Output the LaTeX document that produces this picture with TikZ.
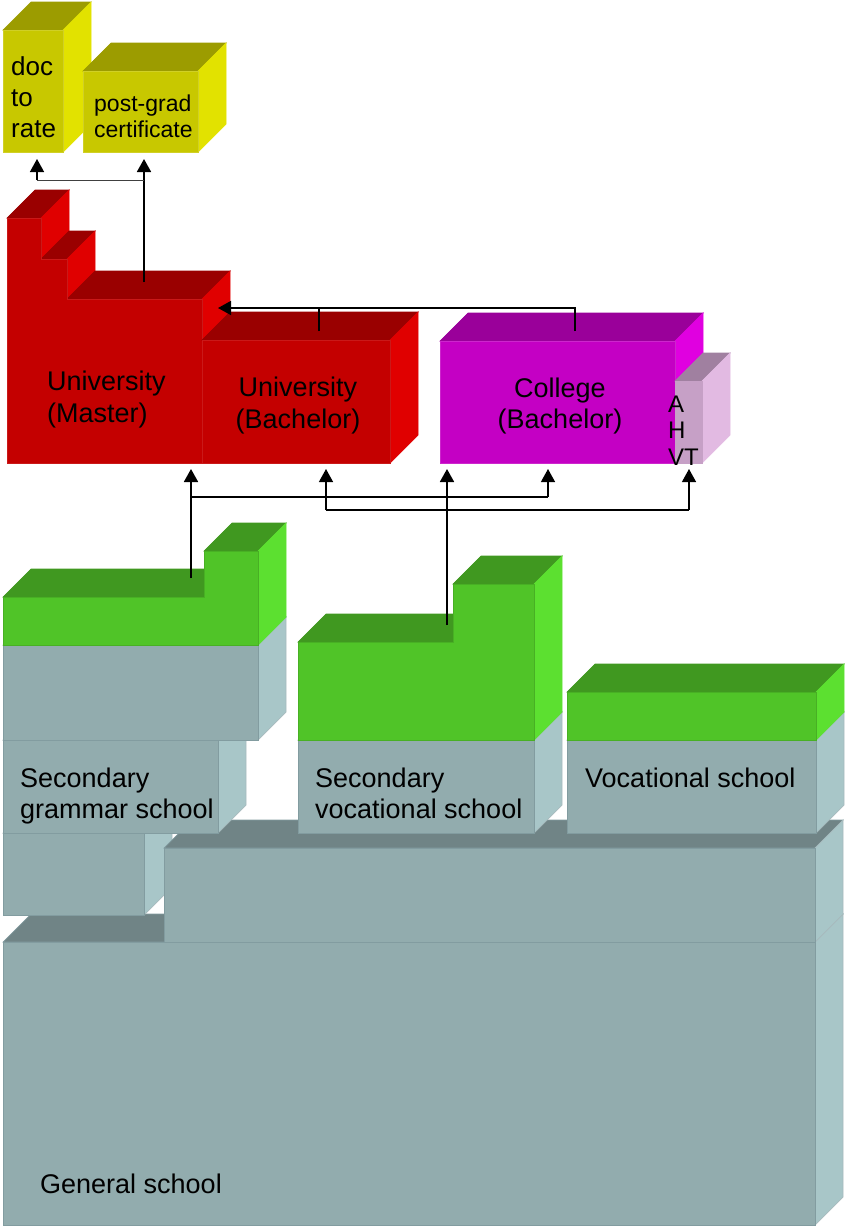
\documentclass[tikz,border=0pt]{standalone}
\usepackage{fontspec}
\setmainfont{Liberation Sans}
\usetikzlibrary{arrows.meta}
\definecolor{yF}{RGB}{200,200,0}
\definecolor{yT}{RGB}{156,156,0}
\definecolor{yS}{RGB}{226,226,0}
\definecolor{rF}{RGB}{196,0,0}
\definecolor{rT}{RGB}{154,0,0}
\definecolor{rS}{RGB}{224,0,0}
\definecolor{mF}{RGB}{196,0,196}
\definecolor{mT}{RGB}{154,0,154}
\definecolor{mS}{RGB}{224,0,224}
\definecolor{pF}{RGB}{198,160,198}
\definecolor{pT}{RGB}{160,128,160}
\definecolor{pS}{RGB}{226,186,226}
\definecolor{gF}{RGB}{80,196,40}
\definecolor{gT}{RGB}{64,152,32}
\definecolor{gS}{RGB}{92,224,48}
\definecolor{sF}{RGB}{146,172,174}
\definecolor{sT}{RGB}{112,132,134}
\definecolor{sS}{RGB}{168,198,200}
\definecolor{sE}{RGB}{130,156,160}
\newcommand\cub[5]{%
  \path[face,#5top] (#1,#2) -- ++(28,-28) -- ({#3+28},{#2-28}) -- (#3,#2) -- cycle;
  \path[face,#5side] (#3,#2) -- ({#3+28},{#2-28}) -- ({#3+28},{#4-28}) -- (#3,#4) -- cycle;
  \path[face,#5front] (#1,#2) rectangle (#3,#4);}
\tikzset{
  face/.style={line width=0.7pt,line join=miter},
  yfront/.style={fill=yF,draw=yF!85!white}, ytop/.style={fill=yT,draw=yT}, yside/.style={fill=yS,draw=yS},
  rfront/.style={fill=rF,draw=rF!90!white}, rtop/.style={fill=rT,draw=rT}, rside/.style={fill=rS,draw=rS},
  mfront/.style={fill=mF,draw=mF!85!white}, mtop/.style={fill=mT,draw=mT}, mside/.style={fill=mS,draw=mS},
  pfront/.style={fill=pF,draw=pF}, ptop/.style={fill=pT,draw=pT}, pside/.style={fill=pS,draw=pS},
  gfront/.style={fill=gF,draw=gF!90!black}, gtop/.style={fill=gT,draw=gT}, gside/.style={fill=gS,draw=gS},
  sfront/.style={fill=sF,draw=sE}, stop/.style={fill=sT,draw=sE}, sside/.style={fill=sS,draw=sE!70!white},
  lbl/.style={inner sep=0pt,anchor=base west,font=\fontsize{27}{31}\selectfont},
  clbl/.style={inner sep=0pt,anchor=base,font=\fontsize{27}{32}\selectfont},
  arr/.style={line width=1.8pt,-{Triangle[width=14pt,length=13pt]}},
  conn/.style={line width=1.3pt},
}
\begin{document}
\begin{tikzpicture}[x=1pt,y=-1pt]
\useasboundingbox (0,0) rectangle (844,1227);
% ---------- yellow ----------
\cub{3}{30}{63}{152}{y}
\cub{83}{71}{198}{152}{y}
\node[lbl,font=\fontsize{26}{31}\selectfont] (tdoc) at (11,75) {\begin{tabular}[t]{@{}l@{}}doc\\to\\rate\end{tabular}};
\node[lbl,font=\fontsize{23}{26}\selectfont] (tpg) at (94,111) {\begin{tabular}[t]{@{}l@{}}post-grad\\certificate\end{tabular}};
% ---------- red master (staircase) ----------
\path[face,rtop] (7,218) -- (35,190) -- (69,190) -- (41,218) -- cycle;
\path[face,rside] (41,218) -- (69,190) -- (69,231) -- (41,259) -- cycle;
\path[face,rtop] (41,259) -- (69,231) -- (95,231) -- (67,259) -- cycle;
\path[face,rside] (67,259) -- (95,231) -- (95,271) -- (67,299) -- cycle;
\path[face,rtop] (67,299) -- (95,271) -- (230,271) -- (202,299) -- cycle;
\path[face,rside] (202,299) -- (230,271) -- (230,435) -- (202,463) -- cycle;
\path[face,rfront] (7,218) -- (41,218) -- (41,259) -- (67,259) -- (67,299) -- (202,299) -- (202,463) -- (7,463) -- cycle;
\cub{202}{340}{390}{463}{r}
\cub{440}{341}{675}{463}{m}
\cub{675}{381}{702}{463}{p}
\node[lbl,font=\fontsize{27}{32}\selectfont] (tmaster) at (47,390) {\begin{tabular}[t]{@{}l@{}}University\\(Master)\end{tabular}};
\node[clbl] (tbach) at (298,396) {\begin{tabular}[t]{@{}c@{}}University\\(Bachelor)\end{tabular}};
\node[clbl,font=\fontsize{27}{31}\selectfont] (tcoll) at (560,397) {\begin{tabular}[t]{@{}c@{}}College\\(Bachelor)\end{tabular}};
\node[lbl,font=\fontsize{24}{26.5}\selectfont] (tahvt) at (668,412) {\begin{tabular}[t]{@{}l@{}}A\\H\\VT\end{tabular}};
% ---------- gray / green lower part ----------
\cub{3}{942}{815}{1225}{s}
\cub{3}{833}{144}{915}{s}
\cub{164}{848}{815}{942}{s}
\cub{3}{740}{218}{833}{s}
\cub{3}{645}{258}{740}{s}
% green grammar
\path[face,gtop] (3,597) -- (31,569) -- (204,569) -- (204,597) -- cycle;
\path[face,gtop] (204,551) -- (232,523) -- (286,523) -- (258,551) -- cycle;
\path[face,gside] (258,551) -- (286,523) -- (286,617) -- (258,645) -- cycle;
\path[face,gfront] (3,597) -- (204,597) -- (204,551) -- (258,551) -- (258,645) -- (3,645) -- cycle;
% secondary vocational
\cub{298}{740}{534}{833}{s}
\path[face,gtop] (298,642) -- (326,614) -- (453,614) -- (453,642) -- cycle;
\path[face,gtop] (453,584) -- (481,556) -- (562,556) -- (534,584) -- cycle;
\path[face,gside] (534,584) -- (562,556) -- (562,712) -- (534,740) -- cycle;
\path[face,gfront] (298,642) -- (453,642) -- (453,584) -- (534,584) -- (534,740) -- (298,740) -- cycle;
% vocational
\cub{567}{740}{816}{833}{s}
\cub{567}{692}{816}{740}{g}
\node[lbl] (tsg) at (20,787) {\begin{tabular}[t]{@{}l@{}}Secondary\\grammar school\end{tabular}};
\node[lbl] (tsv) at (315,787) {\begin{tabular}[t]{@{}l@{}}Secondary\\vocational school\end{tabular}};
\node[lbl] (tvs) at (585,787) {Vocational school};
\node[lbl] (tgs) at (40,1193) {General school};
% ---------- connectors ----------
\coordinate (masterOut) at (144,282);
\coordinate (pgIn) at (144,159);
\coordinate (j1) at (144,180);
\coordinate (j2) at (37,180);
\coordinate (docIn) at (37,159);
\draw[arr] (masterOut) -- (pgIn);
\draw[line width=1pt,draw=black!75] (j1) -- (j2);
\draw[arr,line width=1.5pt] (j2) -- (docIn);
\coordinate (bachOut) at (319,331);
\coordinate (collOut) at (575,331);
\coordinate (jb) at (319,308);
\coordinate (jc) at (575,308);
\coordinate (masterIn) at (218,308);
\draw[conn] (collOut) -- (jc) -- (jb);
\draw[arr,line width=1.5pt] (bachOut) -- (jb) -- (masterIn);
\coordinate (gramOut) at (191,578);
\coordinate (masterIn2) at (191,469);
\coordinate (g1) at (191,497);
\coordinate (g2) at (548,497);
\coordinate (collIn1) at (548,469);
\coordinate (svOut) at (447,625);
\coordinate (collIn2) at (447,469);
\coordinate (h1) at (326,510);
\coordinate (h2) at (689,510);
\coordinate (bachIn) at (326,469);
\coordinate (ahvtIn) at (689,469);
\draw[arr] (gramOut) -- (masterIn2);
\draw[conn] (g1) -- (g2);
\draw[arr,line width=1.3pt] (g2) -- (collIn1);
\draw[arr] (svOut) -- (collIn2);
\draw[conn] (h1) -- (h2);
\draw[arr,line width=1.3pt] (h1) -- (bachIn);
\draw[arr,line width=1.3pt] (h2) -- (ahvtIn);
\end{tikzpicture}
\end{document}
